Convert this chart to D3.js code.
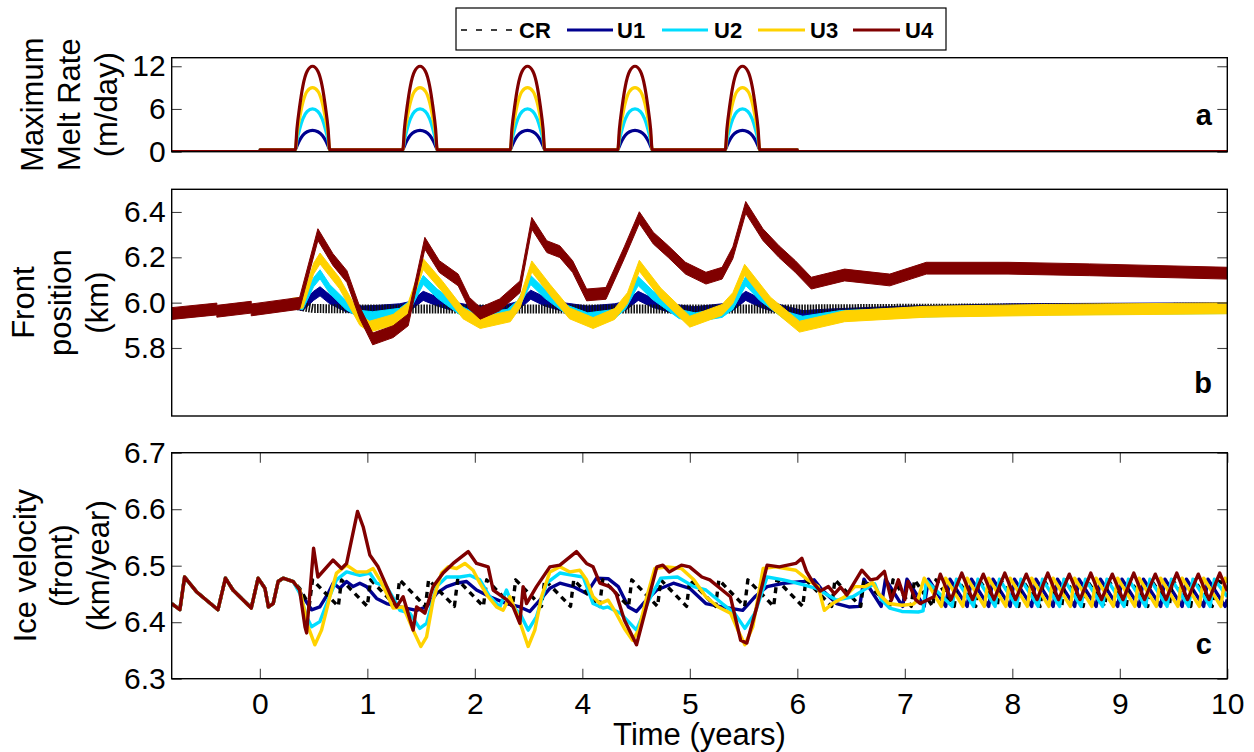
<!DOCTYPE html>
<html><head><meta charset="utf-8">
<script src="https://cdn.jsdelivr.net/npm/d3@7"></script>
<style>body{margin:0;background:#fff}svg{display:block}</style>
</head><body><svg id="c" width="1254" height="752"></svg>
<script>
// ---------------- DATA ----------------
const seriesNames = ["CR","U1","U2","U3","U4"];
const seriesColors = {CR:"#000000",U1:"#00008F",U2:"#00DDFF",U3:"#FFD200",U4:"#800000"};
const drawOrder = ["U1","CR","U2","U3","U4"];

const xTickValues = [0,1,2,3,4,5,6,7,8,9];
const xTickLabels = ["0","1","2","4","5","6","7","8","9","10"];
const meltTicks = [0,6,12];
const frontTicks = [5.8,6.0,6.2,6.4];
const velTicks = [6.3,6.4,6.5,6.6,6.7];

// panel a: maximum melt rate (m/day)
const meltYears = [0,1,2,3,4];
const meltBase = 0.25;
const meltSeasonEnd = 5;
const meltPeakT  = [0.33,0.345,0.37,0.40,0.44,0.49,0.54,0.58,0.61,0.635,0.65];
const meltPeakU1 = [0.25,0.8,1.6,2.3,2.8,3,2.8,2.3,1.6,0.8,0.25];
const meltPeakU2 = [0.25,1.6,3.15,4.6,5.65,6,5.65,4.6,3.15,1.6,0.25];
const meltPeakU3 = [0.25,2.4,4.7,6.9,8.5,9,8.5,6.9,4.7,2.4,0.25];
const meltPeakU4 = [0.25,3.2,6.3,9.2,11.3,12,11.3,9.2,6.3,3.2,0.25];

// panel b: front position (km)  [time, value]
const frontU4 = [[-0.82,5.952],[-0.40,5.972],[-0.40,5.962],[-0.08,5.98],[-0.08,5.968],[0.37,5.997],[0.54,6.30],[0.68,6.19],[0.81,6.115],[0.93,5.955],[1.05,5.84],[1.24,5.872],[1.38,5.924],[1.535,6.262],[1.67,6.159],[1.845,6.10],[1.95,5.997],[2.05,5.953],[2.23,5.99],[2.42,6.07],[2.53,6.35],[2.67,6.247],[2.79,6.225],[2.91,6.159],[3.04,6.034],[3.22,6.041],[3.39,6.22],[3.53,6.375],[3.66,6.285],[3.8,6.225],[3.96,6.152],[4.15,6.108],[4.3,6.13],[4.4,6.22],[4.52,6.42],[4.68,6.30],[4.83,6.225],[4.98,6.16],[5.13,6.086],[5.44,6.122],[5.86,6.10],[6.2,6.152],[6.96,6.152],[7.72,6.145],[9.0,6.13]];
const frontU3 = [[0.30,5.995],[0.40,6.0],[0.50,6.15],[0.56,6.195],[0.65,6.14],[0.74,6.086],[0.93,5.924],[1.02,5.894],[1.24,5.924],[1.38,5.976],[1.52,6.17],[1.70,6.07],[1.89,5.953],[2.05,5.91],[2.33,5.94],[2.42,6.0],[2.53,6.16],[2.70,6.056],[2.88,5.953],[3.1,5.91],[3.3,5.95],[3.42,6.02],[3.53,6.163],[3.73,6.04],[4.0,5.916],[4.3,5.968],[4.40,6.02],[4.51,6.145],[4.75,6.0],[5.02,5.894],[5.44,5.94],[6.2,5.96],[7.34,5.968],[9.0,5.975]];
const frontU2 = [[0.30,5.995],[0.40,5.99],[0.50,6.09],[0.56,6.125],[0.65,6.06],[0.80,5.99],[0.95,5.945],[1.05,5.94],[1.3,5.955],[1.4,5.99],[1.52,6.10],[1.65,6.04],[1.85,5.97],[2.0,5.935],[2.3,5.95],[2.4,5.99],[2.52,6.10],[2.65,6.04],[2.85,5.97],[3.05,5.935],[3.3,5.95],[3.4,5.99],[3.52,6.095],[3.65,6.035],[3.9,5.95],[4.05,5.935],[4.3,5.955],[4.4,5.99],[4.52,6.095],[4.65,6.03],[4.9,5.94],[5.05,5.92],[5.4,5.945],[6.0,5.955],[7.0,5.965],[9.0,5.972]];
const frontU1 = [[0.30,5.995],[0.40,5.985],[0.50,6.03],[0.56,6.05],[0.65,6.015],[0.80,5.98],[0.95,5.965],[1.1,5.968],[1.3,5.975],[1.4,5.985],[1.52,6.03],[1.65,6.005],[1.85,5.978],[2.0,5.965],[2.3,5.972],[2.4,5.985],[2.52,6.035],[2.65,6.005],[2.85,5.978],[3.05,5.965],[3.3,5.975],[3.4,5.985],[3.52,6.03],[3.65,6.0],[3.85,5.972],[4.05,5.962],[4.3,5.975],[4.4,5.985],[4.52,6.03],[4.65,6.0],[4.85,5.97],[5.05,5.945],[5.3,5.952],[6.0,5.965],[7.0,5.975],[9.0,5.98]];
const frontCR = [[0.30,5.99],[0.5,5.974],[1.0,5.972],[2.0,5.972],[3.0,5.972],[4.0,5.972],[5.0,5.972],[6.0,5.975],[9.0,5.98]];

// panel c: ice velocity at the front (km/year)  [time, value]
const velSpinup = [[-0.82,6.433],[-0.744,6.422],[-0.70,6.48],[-0.59,6.454],[-0.39,6.422],[-0.32,6.478],[-0.25,6.457],[-0.08,6.425],[-0.016,6.478],[0.047,6.46],[0.08,6.427],[0.124,6.433],[0.17,6.472],[0.217,6.478],[0.31,6.472]];
const velU4 = [[0.37,6.457],[0.42,6.392],[0.435,6.381],[0.50,6.531],[0.54,6.48],[0.68,6.51],[0.76,6.495],[0.807,6.504],[0.909,6.596],[0.961,6.569],[1.023,6.519],[1.10,6.498],[1.209,6.451],[1.272,6.427],[1.333,6.445],[1.426,6.386],[1.458,6.427],[1.535,6.416],[1.612,6.463],[1.705,6.487],[1.798,6.504],[1.938,6.525],[2.016,6.504],[2.124,6.498],[2.17,6.457],[2.295,6.44],[2.356,6.427],[2.419,6.398],[2.449,6.463],[2.481,6.433],[2.574,6.463],[2.698,6.498],[2.791,6.501],[2.946,6.525],[3.039,6.504],[3.1,6.498],[3.163,6.469],[3.256,6.463],[3.314,6.451],[3.391,6.404],[3.504,6.36],[3.581,6.416],[3.693,6.498],[3.749,6.501],[3.808,6.489],[3.922,6.501],[3.998,6.498],[4.112,6.48],[4.186,6.475],[4.301,6.457],[4.378,6.445],[4.473,6.368],[4.53,6.363],[4.623,6.427],[4.719,6.501],[4.833,6.498],[4.986,6.504],[5.042,6.513],[5.085,6.49],[5.15,6.469],[5.213,6.455],[5.289,6.463],[5.346,6.45],[5.403,6.462],[5.46,6.448],[5.6,6.492],[5.68,6.475],[5.74,6.477],[5.81,6.49],[5.875,6.439],[5.94,6.475],[6.0,6.44],[6.03,6.472],[6.1,6.44],[6.143,6.433],[6.27,6.445],[6.33,6.485],[6.43,6.44],[6.53,6.487],[6.63,6.44],[6.73,6.485],[6.83,6.44],[6.93,6.487],[7.03,6.44],[7.13,6.485],[7.23,6.44],[7.33,6.487],[7.43,6.44],[7.53,6.485],[7.63,6.44],[7.73,6.487],[7.83,6.44],[7.93,6.485],[8.03,6.44],[8.13,6.487],[8.23,6.44],[8.33,6.485],[8.43,6.44],[8.53,6.487],[8.63,6.44],[8.73,6.485],[8.83,6.44],[8.93,6.487],[9.0,6.455]];
const velU3 = [[0.372,6.457],[0.449,6.392],[0.512,6.36],[0.574,6.386],[0.651,6.445],[0.713,6.487],[0.807,6.501],[0.9,6.489],[0.993,6.489],[1.054,6.495],[1.116,6.475],[1.179,6.451],[1.24,6.425],[1.333,6.427],[1.426,6.386],[1.498,6.357],[1.551,6.374],[1.612,6.439],[1.69,6.487],[1.752,6.498],[1.83,6.495],[1.907,6.504],[1.984,6.492],[2.047,6.469],[2.124,6.445],[2.202,6.427],[2.263,6.421],[2.326,6.445],[2.388,6.416],[2.434,6.392],[2.496,6.357],[2.558,6.386],[2.62,6.445],[2.698,6.489],[2.791,6.498],[2.884,6.489],[2.977,6.492],[3.039,6.475],[3.1,6.445],[3.163,6.433],[3.24,6.439],[3.314,6.416],[3.391,6.389],[3.467,6.368],[3.524,6.386],[3.6,6.445],[3.674,6.495],[3.789,6.498],[3.922,6.495],[4.037,6.475],[4.149,6.445],[4.264,6.427],[4.378,6.416],[4.454,6.383],[4.512,6.36],[4.586,6.392],[4.682,6.495],[4.795,6.498],[4.986,6.492],[5.098,6.475],[5.194,6.463],[5.251,6.421],[5.327,6.433],[5.442,6.445],[5.535,6.463],[5.631,6.463],[5.70,6.47],[5.76,6.45],[5.85,6.433],[5.972,6.43],[6.08,6.432],[6.12,6.439],[6.18,6.478],[6.34,6.428],[6.38,6.478],[6.54,6.428],[6.58,6.478],[6.74,6.428],[6.78,6.478],[6.94,6.428],[6.98,6.478],[7.14,6.428],[7.18,6.478],[7.34,6.428],[7.38,6.478],[7.54,6.428],[7.58,6.478],[7.74,6.428],[7.78,6.478],[7.94,6.428],[7.98,6.478],[8.14,6.428],[8.18,6.478],[8.34,6.428],[8.38,6.478],[8.54,6.428],[8.58,6.478],[8.74,6.428],[8.78,6.478],[8.94,6.428],[8.98,6.478],[9.0,6.47]];
const velU2 = [[0.372,6.451],[0.434,6.41],[0.481,6.392],[0.558,6.401],[0.635,6.439],[0.713,6.475],[0.807,6.489],[0.93,6.483],[1.023,6.487],[1.086,6.469],[1.179,6.463],[1.272,6.433],[1.302,6.421],[1.395,6.416],[1.488,6.389],[1.551,6.398],[1.644,6.463],[1.737,6.48],[1.86,6.48],[1.953,6.483],[2.047,6.475],[2.14,6.445],[2.233,6.427],[2.295,6.457],[2.356,6.427],[2.419,6.416],[2.496,6.386],[2.574,6.41],[2.667,6.469],[2.791,6.487],[2.914,6.483],[3.008,6.48],[3.1,6.433],[3.193,6.425],[3.237,6.427],[3.353,6.416],[3.504,6.386],[3.619,6.439],[3.73,6.478],[3.885,6.48],[4.037,6.463],[4.149,6.457],[4.301,6.433],[4.416,6.416],[4.512,6.389],[4.605,6.416],[4.719,6.48],[4.872,6.475],[5.06,6.466],[5.175,6.46],[5.365,6.439],[5.516,6.445],[5.669,6.463],[5.72,6.468],[5.78,6.44],[5.859,6.425],[5.972,6.419],[6.125,6.418],[6.17,6.42],[6.2,6.474],[6.44,6.428],[6.48,6.476],[6.64,6.428],[6.68,6.476],[6.84,6.428],[6.88,6.476],[7.04,6.428],[7.08,6.476],[7.24,6.428],[7.28,6.476],[7.44,6.428],[7.48,6.476],[7.64,6.428],[7.68,6.476],[7.84,6.428],[7.88,6.476],[8.04,6.428],[8.08,6.476],[8.24,6.428],[8.28,6.476],[8.44,6.428],[8.48,6.476],[8.64,6.428],[8.68,6.476],[8.84,6.428],[8.88,6.476],[9.0,6.445]];
const velU1 = [[0.341,6.463],[0.403,6.445],[0.481,6.422],[0.558,6.427],[0.635,6.451],[0.682,6.469],[0.744,6.46],[0.807,6.472],[0.868,6.463],[0.93,6.469],[0.993,6.463],[1.086,6.442],[1.179,6.433],[1.302,6.427],[1.458,6.421],[1.551,6.427],[1.644,6.451],[1.737,6.463],[1.83,6.469],[1.923,6.472],[2.016,6.457],[2.14,6.445],[2.295,6.433],[2.419,6.427],[2.512,6.419],[2.605,6.439],[2.698,6.46],[2.791,6.469],[2.914,6.463],[3.039,6.451],[3.132,6.478],[3.24,6.477],[3.334,6.463],[3.429,6.427],[3.504,6.419],[3.581,6.436],[3.693,6.457],[3.847,6.469],[3.998,6.46],[4.149,6.433],[4.301,6.427],[4.492,6.421],[4.605,6.445],[4.719,6.463],[4.872,6.469],[5.06,6.472],[5.156,6.475],[5.232,6.457],[5.365,6.433],[5.48,6.427],[5.58,6.428],[5.62,6.476],[5.78,6.428],[5.82,6.476],[5.98,6.428],[6.02,6.476],[6.18,6.428],[6.22,6.476],[6.38,6.428],[6.42,6.476],[6.58,6.428],[6.62,6.476],[6.78,6.428],[6.82,6.476],[6.98,6.428],[7.02,6.476],[7.18,6.428],[7.22,6.476],[7.38,6.428],[7.42,6.476],[7.58,6.428],[7.62,6.476],[7.78,6.428],[7.82,6.476],[7.98,6.428],[8.02,6.476],[8.18,6.428],[8.22,6.476],[8.38,6.428],[8.42,6.476],[8.58,6.428],[8.62,6.476],[8.78,6.428],[8.82,6.476],[8.98,6.428],[9.0,6.44]];
const velCR = [[0.37,6.46],[0.46,6.43],[0.49,6.475],[0.73,6.428],[0.76,6.475],[1.00,6.428],[1.03,6.475],[1.27,6.428],[1.30,6.475],[1.54,6.428],[1.57,6.475],[1.81,6.428],[1.84,6.475],[2.08,6.428],[2.11,6.475],[2.35,6.428],[2.38,6.475],[2.62,6.428],[2.65,6.475],[2.89,6.428],[2.92,6.475],[3.16,6.428],[3.19,6.475],[3.43,6.428],[3.46,6.475],[3.70,6.428],[3.73,6.475],[3.97,6.428],[4.00,6.475],[4.24,6.428],[4.27,6.475],[4.51,6.428],[4.54,6.475],[4.78,6.428],[4.81,6.475],[5.05,6.428],[5.08,6.475],[5.32,6.428],[5.35,6.475],[5.59,6.428],[5.62,6.475],[5.86,6.428],[5.89,6.475],[6.06,6.428],[6.09,6.475],[6.26,6.428],[6.29,6.475],[6.46,6.428],[6.49,6.475],[6.66,6.428],[6.69,6.475],[6.86,6.428],[6.89,6.475],[7.06,6.428],[7.09,6.475],[7.26,6.428],[7.29,6.475],[7.46,6.428],[7.49,6.475],[7.66,6.428],[7.69,6.475],[7.86,6.428],[7.89,6.475],[8.06,6.428],[8.09,6.475],[8.26,6.428],[8.29,6.475],[8.46,6.428],[8.49,6.475],[8.66,6.428],[8.69,6.475],[8.86,6.428],[8.89,6.475],[9.0,6.466]];

// ---------------- BUILD ----------------
const FONT = '"Liberation Sans", Arial, Helvetica, sans-serif';
const svg = d3.select("#c");
const x = d3.scaleLinear().domain([-0.82, 9]).range([171.7, 1227.3]);
const yA = d3.scaleLinear().domain([0, 13.2]).range([151.7, 57.7]);
const yB = d3.scaleLinear().domain([5.5, 6.5]).range([416, 189.3]);
const yC = d3.scaleLinear().domain([6.3, 6.7]).range([678.7, 452.7]);

function buildMelt(peak){
  const pts = [[x.domain()[0],0],[0,0],[0.002,meltBase]];
  meltYears.forEach(yr => meltPeakT.forEach((t,i)=>pts.push([yr+t, peak[i]])));
  pts.push([meltSeasonEnd,meltBase],[meltSeasonEnd+0.002,0],[x.domain()[1],0]);
  return pts;
}
const meltData = {CR:[[x.domain()[0],0],[x.domain()[1],0]], U1:buildMelt(meltPeakU1), U2:buildMelt(meltPeakU2), U3:buildMelt(meltPeakU3), U4:buildMelt(meltPeakU4)};
const frontData = {CR:frontCR, U1:frontU1, U2:frontU2, U3:frontU3, U4:frontU4};
const velData = {CR:velSpinup.concat(velCR), U1:velSpinup.concat(velU1), U2:velSpinup.concat(velU2), U3:velSpinup.concat(velU3), U4:velSpinup.concat(velU4)};
const bandHalf = {U1:0.02, U2:0.02, U3:0.024, U4:0.026};

const defs = svg.append("defs");
function clip(id, y){
  defs.append("clipPath").attr("id",id).append("rect")
    .attr("x",x.range()[0]).attr("y",y.range()[1])
    .attr("width",x.range()[1]-x.range()[0]).attr("height",y.range()[0]-y.range()[1]);
}
clip("clA",yA); clip("clB",yB); clip("clC",yC);

function yAxis(y, ticks, fmt){
  const gl = svg.append("g").attr("transform",`translate(${x.range()[0]},0)`)
    .call(d3.axisLeft(y).tickValues(ticks).tickSize(-10).tickPadding(6).tickFormat(fmt));
  const gr = svg.append("g").attr("transform",`translate(${x.range()[1]},0)`)
    .call(d3.axisRight(y).tickValues(ticks).tickSize(-10).tickFormat(""));
  [gl,gr].forEach(g=>{
    g.select(".domain").remove();
    g.selectAll(".tick line").attr("stroke","#444").attr("stroke-width",1.1);
    g.attr("font-size",30).attr("font-family",FONT);
    g.selectAll("text").attr("fill","#000");
  });
}

// panel a
const gA = svg.append("g").attr("clip-path","url(#clA)");
const lineA = d3.line().x(d=>x(d[0])).y(d=>yA(d[1])).curve(d3.curveMonotoneX);
["CR","U1","U2","U3","U4"].forEach(k=>{
  gA.append("path").attr("d",lineA(meltData[k])).attr("fill","none")
    .attr("stroke",seriesColors[k]).attr("stroke-width",k==="CR"?1.5:3.2)
    .attr("stroke-dasharray",k==="CR"?"6,5":null);
});
yAxis(yA, meltTicks, d3.format("d"));

// panel b
const gB = svg.append("g").attr("clip-path","url(#clB)");
drawOrder.forEach(k=>{
  const d = frontData[k];
  if(k==="CR"){
    gB.append("path").attr("d",d3.line().x(p=>x(p[0])).y(p=>yB(p[1]))(d))
      .attr("fill","none").attr("stroke","#111").attr("stroke-width",9)
      .attr("stroke-dasharray","1.6,1.2");
  } else {
    const h = bandHalf[k];
    const area = d3.area().x(p=>x(p[0])).y0(p=>yB(p[1]-h)).y1(p=>yB(p[1]+h));
    gB.append("path").attr("d",area(d)).attr("fill",seriesColors[k])
      .attr("stroke",seriesColors[k]).attr("stroke-width",1);
  }
});
yAxis(yB, frontTicks, d3.format(".1f"));

// panel c
const gC = svg.append("g").attr("clip-path","url(#clC)");
const lineC = d3.line().x(d=>x(d[0])).y(d=>yC(d[1]));
drawOrder.forEach(k=>{
  gC.append("path").attr("d",lineC(velData[k])).attr("fill","none")
    .attr("stroke",seriesColors[k]).attr("stroke-width",3.4)
    .attr("stroke-linejoin","round")
    .attr("stroke-dasharray",k==="CR"?"6,5":null);
});
yAxis(yC, velTicks, d3.format(".1f"));
const gxb = svg.append("g").attr("transform",`translate(0,${yC.range()[0]})`)
  .call(d3.axisBottom(x).tickValues(xTickValues).tickSize(-10).tickPadding(14)
  .tickFormat((d,i)=>xTickLabels[i]));
const gxt = svg.append("g").attr("transform",`translate(0,${yC.range()[1]})`)
  .call(d3.axisTop(x).tickValues(xTickValues).tickSize(-10).tickFormat(""));
[gxb,gxt].forEach(g=>{
  g.select(".domain").remove();
  g.selectAll(".tick line").attr("stroke","#444").attr("stroke-width",1.1);
  g.attr("font-size",30).attr("font-family",FONT);
  g.selectAll("text").attr("fill","#000");
});

// frames
[yA,yB,yC].forEach(y=>{
  svg.append("rect").attr("x",x.range()[0]).attr("y",y.range()[1])
    .attr("width",x.range()[1]-x.range()[0]).attr("height",y.range()[0]-y.range()[1])
    .attr("fill","none").attr("stroke","#000").attr("stroke-width",1.4);
});

// axis titles
const titles = [
  {y:yA, lines:["Maximum","Melt Rate","(m/day)"], xs:[43,80,117]},
  {y:yB, lines:["Front","position","(km)"], xs:[34,71,108]},
  {y:yC, lines:["Ice velocity","(front)","(km/year)"], xs:[36,72,108.5]}
];
titles.forEach(t=>{
  const yc = (t.y.range()[0]+t.y.range()[1])/2;
  t.lines.forEach((s,i)=>{
    svg.append("text").attr("transform",`translate(${t.xs[i]},${yc}) rotate(-90)`)
      .attr("text-anchor","middle").attr("font-family",FONT).attr("font-size",31)
      .text(s);
  });
});
svg.append("text").attr("x",(x.range()[0]+x.range()[1])/2).attr("y",745)
  .attr("text-anchor","middle").attr("font-family",FONT).attr("font-size",31).text("Time (years)");

// panel letters
[["a",125],["b",393],["c",654]].forEach(([s,yb])=>{
  svg.append("text").attr("x",1212).attr("y",yb).attr("text-anchor","end")
    .attr("font-family",FONT).attr("font-weight","bold").attr("font-size",29).text(s);
});

// legend
const lg = svg.append("g");
lg.append("rect").attr("x",456).attr("y",8).attr("width",490).attr("height",42)
  .attr("fill","#fff").attr("stroke","#000").attr("stroke-width",1.2);
const legX = {CR:[461,513,519],U1:[567,613,617],U2:[662,708,714],U3:[758,805,810],U4:[853,900,905]};
seriesNames.forEach(k=>{
  const [a,b,t] = legX[k];
  lg.append("line").attr("x1",a).attr("x2",b).attr("y1",30).attr("y2",30)
    .attr("stroke",seriesColors[k]).attr("stroke-width",k==="CR"?1.6:3.2)
    .attr("stroke-dasharray",k==="CR"?"6,9":null);
  lg.append("text").attr("x",t).attr("y",37.5).attr("font-family",FONT)
    .attr("font-weight","bold").attr("font-size",22).text(k);
});
</script></body></html>
